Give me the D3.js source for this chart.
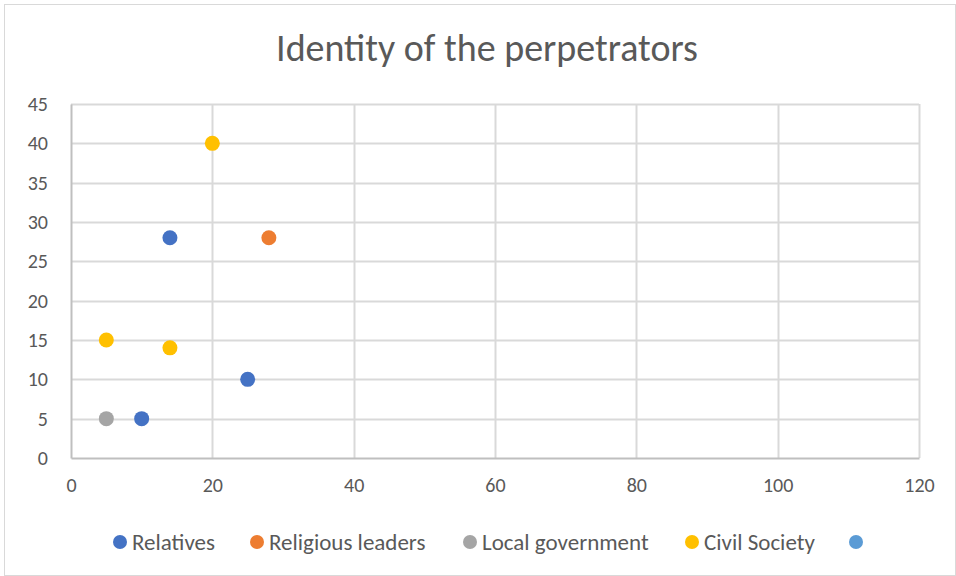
<!DOCTYPE html>
<html>
<head>
<meta charset="utf-8">
<script src="https://cdn.jsdelivr.net/npm/d3@7"></script>
<style>
  html, body { margin: 0; padding: 0; background: #fff; }
  svg { display: block; font-family: Carlito, Calibri, Lato, "Open Sans", sans-serif; }
</style>
</head>
<body>
<svg id="chart" width="956" height="576"></svg>
<script>
// Series data: [x, y] pairs per perpetrator group
const seriesNames = ["Relatives", "Religious leaders", "Local government", "Civil Society", ""];
const seriesColors = ["#4472C4", "#ED7D31", "#A5A5A5", "#FFC000", "#5B9BD5"];
const relatives = [[14, 28], [25, 10], [10, 5]];
const religiousLeaders = [[28, 28]];
const localGovernment = [[5, 5]];
const civilSociety = [[20, 40], [5, 15], [14, 14]];
const unnamedSeries = [];
const xTicks = [0, 20, 40, 60, 80, 100, 120];
const yTicks = [0, 5, 10, 15, 20, 25, 30, 35, 40, 45];

const seriesData = [relatives, religiousLeaders, localGovernment, civilSociety, unnamedSeries];

const svg = d3.select("#chart");
const W = 956, H = 576;

// chart frame
svg.append("rect")
  .attr("x", 4.5).attr("y", 4.5)
  .attr("width", W - 5).attr("height", H - 5)
  .attr("fill", "#fff").attr("stroke", "#d9d9d9").attr("stroke-width", 1);

const plot = { left: 71, right: 919, top: 104, bottom: 458 };

const x = d3.scaleLinear().domain([0, 120]).range([plot.left, plot.right]);
const y = d3.scaleLinear().domain([0, 45]).range([plot.bottom, plot.top]);

// title
svg.append("text")
  .attr("x", 487).attr("y", 61)
  .attr("text-anchor", "middle")
  .attr("font-size", 38)
  .attr("font-weight", 300)
  .attr("fill", "#595959")
  .text("Identity of the perpetrators");

// gridlines
const grid = svg.append("g");
grid.selectAll("line.h").data(yTicks.filter(d => d > 0)).join("line")
  .attr("x1", plot.left).attr("x2", plot.right)
  .attr("y1", d => Math.round(y(d)) + 0.5).attr("y2", d => Math.round(y(d)) + 0.5)
  .attr("stroke", "#d9d9d9").attr("stroke-width", 2);
grid.selectAll("line.v").data(xTicks.filter(d => d > 0)).join("line")
  .attr("y1", plot.top).attr("y2", plot.bottom)
  .attr("x1", d => Math.round(x(d)) + 0.5).attr("x2", d => Math.round(x(d)) + 0.5)
  .attr("stroke", "#d9d9d9").attr("stroke-width", 2);

// axes
const xAxis = d3.axisBottom(x).tickValues(xTicks).tickSize(0).tickPadding(20);
const yAxis = d3.axisLeft(y).tickValues(yTicks).tickSize(0).tickPadding(23);

const gx = svg.append("g").attr("transform", `translate(0,${plot.bottom})`).call(xAxis);
const gy = svg.append("g").attr("transform", `translate(${plot.left},0)`).call(yAxis);
[gx, gy].forEach(g => {
  g.select(".domain").attr("stroke", "#bfbfbf").attr("stroke-width", 2);
  g.selectAll("text").attr("font-size", 20).attr("fill", "#595959")
    .attr("font-family", "Carlito, Calibri, Lato, 'Open Sans', sans-serif");
});

// points
seriesData.forEach((pts, i) => {
  svg.append("g").selectAll("circle").data(pts).join("circle")
    .attr("cx", d => x(d[0])).attr("cy", d => y(d[1]))
    .attr("r", 7.5)
    .attr("fill", seriesColors[i]);
});

// legend
const legendX = [120, 257, 470, 692, 856];
const legend = svg.append("g");
seriesNames.forEach((name, i) => {
  const g = legend.append("g").attr("transform", `translate(${legendX[i]},542)`);
  g.append("circle").attr("r", 7).attr("fill", seriesColors[i]);
  if (name) {
    g.append("text").attr("x", 12).attr("y", 8)
      .attr("font-size", 23).attr("fill", "#595959")
      .text(name);
  }
});
</script>
</body>
</html>
